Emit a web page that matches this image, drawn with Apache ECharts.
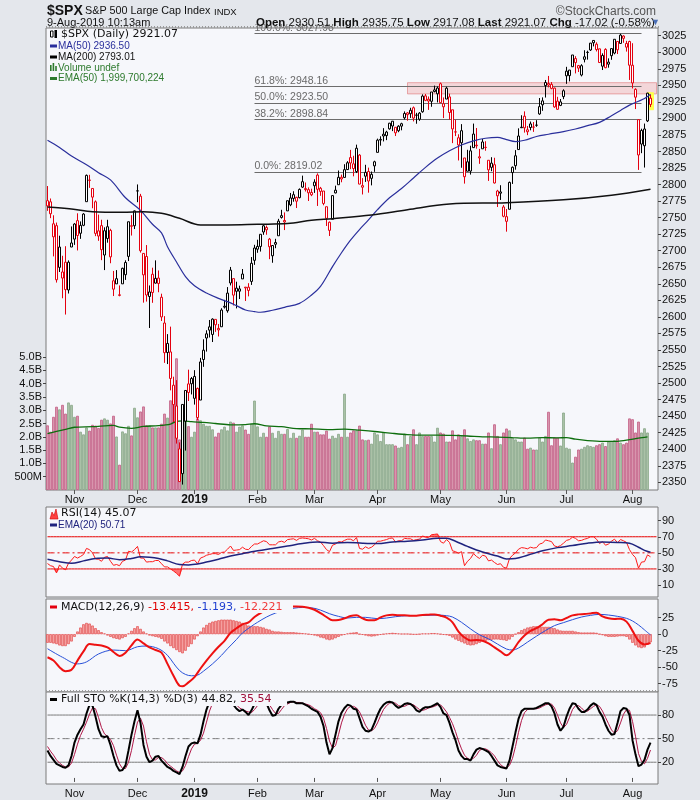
<!DOCTYPE html>
<html><head><meta charset="utf-8">
<script src="https://cdn.jsdelivr.net/npm/echarts/dist/echarts.min.js"></script>
<style>html,body{margin:0;padding:0;background:#e4e7ec}#c{width:700px;height:800px}</style>
</head><body><div id="c"></div><script>
const dates = [
'2018-10-19','2018-10-22','2018-10-23','2018-10-24','2018-10-25','2018-10-26','2018-10-29','2018-10-30','2018-10-31',
'2018-11-01','2018-11-02','2018-11-05','2018-11-06','2018-11-07','2018-11-08','2018-11-09','2018-11-12','2018-11-13','2018-11-14','2018-11-15','2018-11-16','2018-11-19','2018-11-20','2018-11-21','2018-11-23','2018-11-26','2018-11-27','2018-11-28','2018-11-29','2018-11-30',
'2018-12-03','2018-12-04','2018-12-06','2018-12-07','2018-12-10','2018-12-11','2018-12-12','2018-12-13','2018-12-14','2018-12-17','2018-12-18','2018-12-19','2018-12-20','2018-12-21','2018-12-24','2018-12-26','2018-12-27','2018-12-28','2018-12-31',
'2019-01-02','2019-01-03','2019-01-04','2019-01-07','2019-01-08','2019-01-09','2019-01-10','2019-01-11','2019-01-14','2019-01-15','2019-01-16','2019-01-17','2019-01-18','2019-01-22','2019-01-23','2019-01-24','2019-01-25','2019-01-28','2019-01-29','2019-01-30','2019-01-31',
'2019-02-01','2019-02-04','2019-02-05','2019-02-06','2019-02-07','2019-02-08','2019-02-11','2019-02-12','2019-02-13','2019-02-14','2019-02-15','2019-02-19','2019-02-20','2019-02-21','2019-02-22','2019-02-25','2019-02-26','2019-02-27','2019-02-28',
'2019-03-01','2019-03-04','2019-03-05','2019-03-06','2019-03-07','2019-03-08','2019-03-11','2019-03-12','2019-03-13','2019-03-14','2019-03-15','2019-03-18','2019-03-19','2019-03-20','2019-03-21','2019-03-22','2019-03-25','2019-03-26','2019-03-27','2019-03-28','2019-03-29',
'2019-04-01','2019-04-02','2019-04-03','2019-04-04','2019-04-05','2019-04-08','2019-04-09','2019-04-10','2019-04-11','2019-04-12','2019-04-15','2019-04-16','2019-04-17','2019-04-18','2019-04-22','2019-04-23','2019-04-24','2019-04-25','2019-04-26','2019-04-29','2019-04-30',
'2019-05-01','2019-05-02','2019-05-03','2019-05-06','2019-05-07','2019-05-08','2019-05-09','2019-05-10','2019-05-13','2019-05-14','2019-05-15','2019-05-16','2019-05-17','2019-05-20','2019-05-21','2019-05-22','2019-05-23','2019-05-24','2019-05-28','2019-05-29','2019-05-30','2019-05-31',
'2019-06-03','2019-06-04','2019-06-05','2019-06-06','2019-06-07','2019-06-10','2019-06-11','2019-06-12','2019-06-13','2019-06-14','2019-06-17','2019-06-18','2019-06-19','2019-06-20','2019-06-21','2019-06-24','2019-06-25','2019-06-26','2019-06-27','2019-06-28',
'2019-07-01','2019-07-02','2019-07-03','2019-07-05','2019-07-08','2019-07-09','2019-07-10','2019-07-11','2019-07-12','2019-07-15','2019-07-16','2019-07-17','2019-07-18','2019-07-19','2019-07-22','2019-07-23','2019-07-24','2019-07-25','2019-07-26','2019-07-29','2019-07-30','2019-07-31',
'2019-08-01','2019-08-02','2019-08-05','2019-08-06','2019-08-07','2019-08-08','2019-08-09'];

const opens = [
2775.66,2773.94,2721.03,2737.87,2674.88,2667.86,2682.65,2640.68,2705.60,
2717.58,2745.45,2726.37,2738.40,2774.13,2806.38,2794.10,2773.93,2730.05,2737.90,2693.52,2718.54,2730.74,2654.60,2657.74,2633.36,2649.97,2663.75,2691.45,2736.97,2737.76,
2790.50,2782.43,2663.51,2691.26,2630.86,2664.44,2658.23,2658.70,2629.68,2590.75,2559.90,2547.05,2496.77,2465.38,2400.56,2363.12,2442.50,2498.77,2498.94,
2476.96,2491.92,2474.33,2535.61,2568.11,2580.00,2573.51,2588.11,2580.31,2585.10,2614.75,2609.28,2651.27,2657.88,2643.48,2638.84,2657.44,2644.97,2644.89,2653.62,2685.49,
2702.32,2706.49,2728.34,2735.05,2717.53,2692.36,2712.40,2722.61,2750.30,2743.50,2760.24,2769.28,2779.05,2780.67,2780.24,2804.35,2792.36,2787.50,2788.11,
2798.22,2814.37,2794.41,2790.27,2766.53,2730.79,2747.61,2787.34,2799.78,2811.02,2810.79,2822.61,2840.76,2831.34,2819.72,2844.52,2796.01,2812.66,2819.72,2809.40,2828.27,
2848.63,2868.24,2876.09,2873.99,2884.16,2888.46,2886.58,2881.37,2891.92,2900.86,2908.32,2912.26,2916.04,2904.81,2898.78,2909.99,2934.00,2928.99,2925.81,2940.58,2937.14,
2952.33,2922.16,2929.21,2908.89,2913.03,2879.61,2859.84,2863.10,2840.19,2820.12,2820.38,2855.80,2858.60,2841.94,2854.02,2856.06,2836.70,2832.41,2830.03,2790.25,2786.94,2766.15,
2751.53,2762.64,2818.09,2828.51,2852.87,2885.83,2903.27,2882.73,2886.24,2886.82,2889.75,2906.71,2920.55,2949.60,2952.71,2951.42,2945.78,2926.07,2919.66,2932.94,
2971.41,2964.66,2978.08,2984.25,2979.77,2965.52,2989.30,2999.62,3003.36,3017.80,3012.13,3005.10,2978.87,3004.26,2981.93,2994.74,2998.77,3016.26,3013.25,3024.47,3007.66,3016.22,
2980.32,2943.90,2898.07,2861.18,2858.65,2896.21,2930.51];

const highs = [
2797.77,2778.94,2753.59,2742.59,2722.70,2692.38,2706.85,2685.43,2736.69,
2741.67,2756.55,2744.27,2756.82,2815.15,2814.75,2794.10,2775.99,2754.60,2746.80,2735.38,2746.75,2733.16,2669.44,2670.73,2647.55,2674.35,2685.50,2744.00,2753.75,2760.88,
2800.18,2785.93,2696.15,2708.54,2647.51,2674.35,2685.44,2670.19,2635.07,2601.13,2573.99,2585.29,2509.63,2504.41,2410.34,2467.76,2489.10,2520.27,2509.24,
2519.49,2493.14,2538.07,2566.16,2579.82,2595.32,2597.82,2596.27,2589.32,2613.08,2625.76,2645.06,2675.47,2657.88,2653.19,2647.20,2672.38,2644.97,2650.93,2690.44,2708.95,
2716.66,2724.99,2738.98,2738.08,2719.32,2708.07,2718.05,2748.19,2761.85,2757.90,2775.66,2787.33,2789.88,2781.58,2794.20,2813.49,2803.12,2795.76,2793.73,
2808.02,2816.88,2796.44,2790.27,2766.53,2744.13,2784.00,2798.32,2821.24,2815.00,2830.73,2835.41,2852.42,2843.54,2860.31,2846.16,2809.79,2829.87,2825.56,2819.71,2836.03,
2869.40,2872.90,2885.25,2881.28,2893.24,2895.95,2886.88,2889.71,2893.42,2910.54,2909.60,2916.06,2918.00,2908.40,2909.51,2936.31,2936.83,2933.10,2939.88,2949.52,2948.22,
2954.13,2931.68,2947.85,2937.32,2913.03,2897.96,2875.97,2891.31,2840.19,2852.54,2858.68,2892.15,2885.48,2853.86,2868.88,2865.47,2836.70,2841.36,2840.51,2792.03,2799.00,2768.98,
2763.07,2804.49,2827.28,2852.10,2884.97,2904.77,2910.61,2888.57,2895.24,2894.45,2897.27,2930.79,2931.74,2958.06,2964.15,2954.92,2946.52,2932.59,2929.30,2943.98,
2977.93,2973.21,2995.84,2994.03,2980.76,2981.90,3002.98,3002.33,3013.92,3017.80,3015.02,3005.26,2998.28,3006.02,2990.71,3005.90,3019.59,3016.31,3027.98,3025.61,3017.19,3017.40,
3013.59,2945.50,2898.07,2884.40,2892.17,2938.72,2935.75];

const lows = [
2760.27,2749.22,2691.43,2651.89,2667.84,2628.16,2603.54,2635.34,2705.60,
2708.85,2700.44,2717.94,2737.08,2774.13,2794.99,2764.24,2722.00,2714.98,2685.75,2670.75,2712.16,2681.09,2631.52,2649.82,2631.09,2649.97,2655.89,2684.38,2722.94,2732.76,
2773.38,2697.18,2621.53,2623.14,2583.23,2621.30,2650.26,2637.27,2593.84,2530.54,2528.71,2488.96,2441.18,2408.55,2351.10,2346.58,2397.94,2472.89,2482.82,
2467.47,2443.96,2474.33,2524.56,2547.56,2568.89,2562.02,2577.40,2570.41,2585.10,2612.68,2606.36,2647.58,2617.27,2612.86,2627.01,2657.33,2624.06,2631.05,2648.34,2678.65,
2696.88,2698.75,2724.03,2724.15,2687.26,2681.83,2703.79,2722.61,2748.63,2731.23,2760.24,2767.29,2774.06,2764.55,2779.11,2794.99,2789.47,2775.13,2782.51,
2787.38,2767.66,2782.97,2768.69,2737.41,2722.27,2747.61,2786.73,2799.78,2803.46,2810.79,2821.99,2823.27,2812.43,2817.38,2800.47,2785.02,2803.99,2787.72,2798.77,2819.23,
2848.63,2858.75,2865.17,2867.14,2882.99,2880.78,2873.33,2879.13,2881.99,2898.37,2896.48,2900.71,2895.45,2891.90,2896.35,2908.53,2926.05,2912.84,2917.56,2939.35,2924.11,
2923.36,2900.50,2929.21,2898.21,2862.60,2873.28,2836.40,2825.39,2801.43,2820.12,2815.08,2855.80,2854.23,2831.29,2854.02,2851.11,2805.49,2820.19,2801.58,2766.06,2776.74,2750.52,
2728.81,2762.64,2800.92,2822.45,2852.87,2885.51,2878.53,2874.68,2881.99,2879.62,2887.30,2905.44,2911.43,2931.50,2946.87,2944.05,2916.01,2912.99,2918.57,2929.05,
2952.22,2955.92,2977.96,2967.97,2970.09,2963.44,2984.62,2988.80,3001.87,3008.77,3001.15,2984.25,2973.09,2975.86,2976.65,2988.56,2996.82,2997.24,3012.59,3014.30,3000.94,2958.08,
2945.23,2914.11,2822.12,2847.42,2825.71,2894.47,2917.08];

const closes = [
2767.78,2755.88,2740.69,2656.10,2705.57,2658.69,2641.25,2682.63,2711.74,
2740.37,2723.06,2738.31,2755.45,2813.89,2806.83,2781.01,2726.22,2722.18,2701.58,2730.20,2736.27,2690.73,2641.89,2649.93,2632.56,2673.45,2682.17,2743.79,2737.80,2760.17,
2790.37,2700.06,2695.95,2633.08,2637.72,2636.78,2651.07,2650.54,2599.95,2545.94,2546.16,2506.96,2467.42,2416.62,2351.10,2467.70,2488.83,2485.74,2506.85,
2510.03,2447.89,2531.94,2549.69,2574.41,2584.96,2596.64,2596.26,2582.61,2610.30,2616.10,2635.96,2670.71,2632.90,2638.70,2642.33,2664.76,2643.85,2640.00,2681.05,2704.10,
2706.53,2724.87,2737.70,2731.61,2706.05,2707.88,2709.80,2744.73,2753.03,2745.73,2775.60,2779.76,2784.70,2774.88,2792.67,2796.11,2793.90,2792.38,2784.49,
2803.69,2792.81,2789.65,2771.45,2748.93,2743.07,2783.30,2791.52,2810.92,2808.48,2822.48,2832.94,2832.57,2824.23,2854.88,2800.71,2798.36,2818.46,2805.37,2815.44,2834.40,
2867.19,2867.24,2873.40,2879.39,2892.74,2895.77,2878.20,2888.21,2888.32,2907.41,2905.58,2907.06,2900.45,2905.03,2907.97,2933.68,2927.25,2926.17,2939.88,2943.03,2945.83,
2923.73,2917.52,2945.64,2932.47,2884.05,2879.42,2870.72,2881.40,2811.87,2834.41,2850.96,2876.32,2859.53,2840.23,2864.36,2856.27,2822.24,2826.06,2802.39,2783.02,2788.86,2752.06,
2744.45,2803.27,2826.15,2843.49,2873.34,2886.73,2885.72,2879.84,2891.64,2886.98,2889.67,2917.75,2926.46,2954.18,2950.46,2945.35,2917.38,2913.78,2924.92,2941.76,
2964.33,2973.01,2995.82,2990.41,2975.95,2979.63,2993.07,2999.91,3013.77,3014.30,3004.04,2984.42,2995.11,2976.61,2985.03,3005.47,3019.56,3003.67,3025.86,3020.97,3013.18,2980.38,
2953.56,2932.05,2844.74,2881.77,2883.98,2938.09,2921.07];
const prevClose = 2768.78;

// volume in billions (last day undefined)
const volumes = [
2.43,2.19,2.75,3.13,3.03,3.2,2.87,3.29,3.2,
2.75,2.79,2.19,2.09,2.35,2.23,2.45,2.42,2.33,2.64,2.69,2.64,2.5,2.79,2.01,0.95,2.2,2.13,2.41,2.05,3.09,
2.73,2.95,3.14,2.43,2.43,2.35,2.35,2.35,2.49,2.87,2.72,3.37,3.55,4.95,1.9,2.6,2.62,2.4,2.0,
2.19,2.69,2.62,2.49,2.41,2.41,2.28,2.01,2.15,2.28,2.38,2.24,2.57,2.53,2.19,2.38,2.43,2.27,2.11,2.49,3.36,
2.39,2.0,2.15,2.0,2.39,2.15,1.96,2.22,2.11,2.11,2.29,1.96,2.15,1.96,2.04,2.27,2.0,2.0,2.49,
2.19,2.19,2.09,2.09,2.23,1.93,2.04,1.96,2.11,2.0,3.62,2.0,2.16,2.24,2.24,2.42,1.9,1.87,1.89,1.74,2.16,
2.09,1.84,2.16,1.72,1.72,1.72,1.67,1.59,1.62,2.12,1.72,2.03,2.28,1.72,2.16,2.03,2.03,2.03,2.03,1.82,2.34,
2.16,2.12,1.82,1.82,2.24,1.9,2.09,2.03,2.28,1.94,1.84,1.9,1.87,1.87,1.74,1.74,2.16,1.57,2.47,2.03,1.72,2.16,
2.31,2.24,1.97,1.9,1.82,1.82,1.97,1.55,1.59,1.52,1.52,1.97,1.82,2.03,2.94,1.68,1.97,1.97,1.67,2.91,
1.59,1.55,1.03,1.25,1.52,1.55,1.62,1.68,1.65,1.62,1.68,1.72,1.78,1.65,1.82,1.84,1.87,1.94,1.78,1.72,1.78,2.69,
2.66,2.16,2.57,2.16,2.32,2.16,null];

// [dayIndex, value] points
const volEma50 = [[0,2.12],[3,2.2],[6,2.28],[9,2.36],[15,2.38],[22,2.43],[24,2.36],[28,2.32],[32,2.39],[37,2.42],[41,2.48],[43,2.58],[45,2.6],[48,2.57],[52,2.54],[56,2.5],[61,2.45],[66,2.46],[69,2.49],[73,2.41],[78,2.38],[83,2.31],[88,2.3],[94,2.27],[99,2.29],[104,2.25],[110,2.19],[115,2.13],[120,2.08],[125,2.06],[130,2.06],[135,2.05],[140,2.03],[145,2.0],[150,1.99],[155,1.97],[160,1.95],[165,1.97],[170,1.96],[173,1.97],[176,1.91],[180,1.86],[185,1.83],[190,1.83],[194,1.89],[197,1.95],[200,2.0]];
const ma50 = [[0,2867],[4,2856],[8,2843],[13,2830],[17,2818],[21,2807],[26,2780],[31,2761],[35,2740],[38,2727],[40,2706],[43,2683],[46,2661],[49,2647],[53,2636],[57,2628],[60,2623],[63,2617],[66,2610.5],[69,2608],[71,2607],[75,2610],[79,2614.5],[84,2620.5],[88,2633],[91,2646],[95,2676],[98,2697],[101,2716],[104,2732],[107,2746.5],[110,2762],[114,2780],[118,2794],[122,2810],[126,2826],[130,2840],[134,2851],[138,2859.8],[142,2866],[146,2870],[150,2871.4],[153,2868],[156,2865],[159,2867],[163,2872.6],[167,2876],[172,2880],[176,2884],[180,2889],[184,2894],[188,2904],[191,2912],[194,2920],[197,2926],[199,2930],[201,2936.5]];
const ma200 = [[0,2766],[8,2763],[15,2759],[25,2758],[32,2759],[38,2756.5],[44,2749],[51,2739],[60,2739],[70,2740],[80,2741],[88,2746],[95,2748.5],[108,2754],[120,2762],[134,2770.5],[153,2772.6],[172,2777],[188,2784],[201,2793]];

const rsi = [
36.7,34,33,25,35,31,29,37,41,
45.5,43.5,45.5,48,55.5,54,50,42.5,42,39.5,44.5,45.5,39.5,34.5,35.5,34,39.5,41,52,51,54,
58,43.5,43.5,38.5,39,39,40.5,40.5,36.5,32.5,32.5,30,27.5,24.5,21,36,38.5,38.5,40.5,
41,36.5,43.5,45,47,48,49,49,48,50.5,51,54.5,58.5,53,53.5,54,57,54.5,54,58,61,
61,63,65,64,60,60,60,63.5,64.5,63,66.5,67,67.5,65.5,68,68.5,68,67.5,66,
68,65,63.5,59,54,51.5,59.5,61,64,63.5,65.5,67,67,65,69,55.5,54.5,57.5,55.5,57,60,
64.5,64.5,65.5,66.5,68,68.5,63.5,65,65,68,67.5,67.5,65.5,66.5,67,71,69.5,69,72.5,73,73.5,
64,62,66.5,63,52.5,51.5,49.5,51.5,34,39.5,43,49,45.5,43,47,46,40,41,38,35.5,36.5,32,
31,43,47,50,54.5,56.5,56,55,57,56,56.5,61,62,66,65,64,58.5,57.5,59,62,
65.5,66.5,69.5,68,65,65.5,67,68,70,70,67,61.5,64,59.5,61,64.5,67,62.5,66.5,65,63,54,
48,44,31,38.5,39,47.5,45.07];
const rsiEma20 = [[0,42],[4,39],[8,37],[12,40],[16,43],[20,43.5],[24,41.5],[28,43],[31,45],[34,44.5],[37,43],[40,40],[44,35.5],[47,35],[50,36],[53,38.5],[57,42],[61,46],[65,49],[70,52.5],[75,55.5],[80,58.5],[85,61.5],[90,63.5],[95,62],[100,63],[105,62],[110,61.5],[115,63.5],[120,64.5],[125,66],[130,68],[133,68],[136,64.5],[140,58],[145,51],[150,46],[153,42.5],[156,43],[160,47],[165,52.5],[170,56.5],[175,59],[180,62],[185,63.5],[190,63],[194,62],[197,57],[199,53],[201,50.71]];

const macdLine = [[0,-35],[2,-40],[4,-50],[6,-56],[8,-54],[10,-40],[12,-26],[14,-15],[16,-16],[18,-17],[20,-20],[22,-27],[24,-33],[26,-28],[28,-17],[30,-8],[32,-14],[34,-20],[36,-24],[38,-28],[40,-45],[42,-63],[44,-78],[45,-78.8],[47,-73],[49,-65],[51,-52],[53,-40],[55,-29],[57,-19],[59,-10],[61,2],[63,9],[65,15],[67,18],[69,26],[71,32],[73,36],[75,38],[77,40],[79,41],[81,42],[83,42],[85,41.5],[87,40],[89,37],[91,32],[93,26],[95,21],[97,21.5],[99,24],[101,27.5],[103,28.5],[105,24],[107,21],[109,21],[111,25.5],[113,28.5],[115,29.5],[117,28.5],[119,28.5],[121,28],[123,28],[125,29],[127,29.5],[129,30],[131,28],[133,25],[135,18],[137,4],[139,-5],[141,-9.5],[143,-9],[145,-10],[147,-14],[149,-20],[151,-26],[153,-32],[155,-25],[157,-12],[159,-2],[161,5],[163,9],[165,15],[167,22],[169,22.5],[171,21],[173,24.5],[175,28.5],[177,30],[179,30.5],[181,31.5],[183,32.5],[185,27],[187,24],[189,23],[191,23.5],[193,19],[195,5],[197,-10],[199,-15.5],[201,-13.415]];
const macdSignal = [[0,-22],[5,-35],[10,-45],[13,-42],[17,-30],[22,-24],[26,-25],[30,-19],[33,-18],[37,-22],[40,-32],[42,-44],[44,-55],[46,-61],[48,-63],[50,-62],[52,-56],[55,-45],[58,-32],[60,-22],[63,-8],[65,2],[68,12],[70,18],[73,26],[76,32],[80,37.5],[85,40.5],[88,40],[91,36.5],[94,31],[97,27],[100,24.5],[103,25.5],[106,25.5],[110,23.5],[113,24.5],[116,26.5],[120,28],[125,28.3],[130,29],[133,28],[135,26],[138,18],[141,8],[144,-1],[147,-7],[150,-15],[153,-22.5],[155,-24],[157,-21],[160,-12],[163,-3],[166,5.5],[169,13],[172,17.5],[175,22],[178,26],[181,28.5],[184,30],[187,29],[190,27],[193,24],[195,20],[197,14],[199,6.5],[201,-1.193]];
const macdHist = [
-13,-13,-14,-15,-17,-18,-18,-15,-11,
-4,4,10,15,17,16,13,9,6,3,1,-2,-4,-6,-7,-8,-6,-4,1,5,9,
12,8,4,1,-2,-3,-4,-5,-7,-11,-14,-18,-21,-24,-27,-29,-25,-19,-15,
-8,-3,4,10,14,17,19,20,21,22,22,22,22,21,20,19,17,15,13,12,12,
12,11,10,8,7,5,4,4,3.5,3,3,3,3,2.5,2,1.5,1,0,-1,
-2,-3,-5,-6,-8,-9,-8,-6,-4,-2,-1,1,2,2.5,3,0,-1,-2,-3,-3.5,-3,
-2,-1,0,1,1.5,2,1.5,1,0.5,0.5,0.5,0,-0.5,-0.5,0,1,1,1,1.5,1.5,1,
0,-1,-1.5,-2.5,-5,-8,-10,-12,-14,-16,-17,-16.5,-15,-13,-11,-10,-9,-8.5,-8,-8,-8.5,-9,
-10,-8,-4,0,3,6,8,10,11,12,12,12,11,11,11,10,9,7,5.5,5,
5,5,5,4,3,2.5,2.5,2.5,2.5,2.5,2,0,-1.5,-3,-4,-4,-4,-3.5,-3,-3,-4,-8,
-13,-17,-20,-21,-20,-16,-12.221];

const stoK = [
35,28,23,18,16,14,13,16,28,
45,55,62,68,82,93,92,78,62,53,52,53,42,28,16,9,10,16,35,55,72,
86,70,42,27,20,22,27,28,22,18,14,12,9,7,5,14,28,40,44,
45,44,55,72,87,97,100,100,98,97,97,98,99,93,88,85,87,84,80,86,94,
97,98,98,95,86,79,80,88,93,94,96,97,97,95,95,95,93,91,88,
86,84,78,66,45,30,38,55,72,83,89,93,92,88,87,76,65,60,59,61,70,
80,88,93,96,97,96,92,89,91,94,95,94,91,86,84,88,90,90,91,93,95,
90,82,80,70,58,48,35,28,24,24,22,30,36,38,37,35,33,28,22,16,14,13,
12,22,40,58,75,85,88,88,88,88,89,91,93,95,95,91,82,68,60,65,
78,88,95,94,88,84,84,87,92,95,93,84,78,68,60,55,56,70,85,89,88,80,
48,30,15,17,23,36,44.82];
const stoD = [
40,34,29,23,19,16,14,14,19,
30,43,54,62,71,81,89,88,77,64,56,53,49,41,29,18,12,12,20,35,54,
71,76,66,46,30,23,23,26,26,23,18,15,12,9,7,9,16,27,37,
43,44,48,57,71,85,95,99,99,98,97,97,98,97,93,89,87,85,84,83,87,
92,96,98,97,93,87,82,82,87,92,94,96,97,96,96,95,94,93,91,
88,86,83,76,63,47,38,41,55,70,81,88,91,91,89,84,76,67,61,60,63,
70,79,87,92,95,96,95,92,91,91,93,94,93,90,87,86,87,89,90,91,93,
93,89,84,77,69,59,47,37,29,25,23,25,29,35,37,37,35,32,28,22,17,14,
13,16,25,40,58,73,83,87,88,88,88,89,91,93,94,94,89,80,70,64,
68,77,87,92,92,89,85,85,88,91,93,91,85,77,69,61,57,60,70,81,87,86,
72,53,31,21,18,25,35.54];

const fibLevels = [{pct:'100.0%',v:3027.98},{pct:'61.8%',v:2948.16},{pct:'50.0%',v:2923.50},{pct:'38.2%',v:2898.84},{pct:'0.0%',v:2819.02}];
const fibStart = 69, fibEnd = 198;
const resistanceZone = {from:120, low:2937, high:2954};
const rsiLevels = [70, 50, 30];
const stoLevels = [80, 50, 20];
const priceTicks = [2350,2375,2400,2425,2450,2475,2500,2525,2550,2575,2600,2625,2650,2675,2700,2725,2750,2775,2800,2825,2850,2875,2900,2925,2950,2975,3000,3025];
const volTicks = [0.5,1,1.5,2,2.5,3,3.5,4,4.5,5];
const rsiTicks = [10,30,50,70,90];
const macdTicks = [-75,-50,-25,0,25];
const stoTicks = [20,50,80];
const monthNames = ['Jan','Feb','Mar','Apr','May','Jun','Jul','Aug','Sep','Oct','Nov','Dec'];

// ---------- build ----------
const N = dates.length;
const cats = dates.concat(['', ' ']);
const isMonthStart = i => i > 0 && i < N && dates[i].slice(0,7) !== dates[i-1].slice(0,7);
const RED = '#e4000f', BLK = '#000000', PANEL = '#f6f7fb', NAVY = '#2a2f9c', GREEN = '#2d7a2d', OUTER = '#e4e7ec';
const dirUp = i => closes[i] >= (i ? closes[i-1] : prevClose);

const candleData = dates.map((d,i) => {
  const c = dirUp(i) ? BLK : RED;
  return {value:[opens[i], closes[i], lows[i], highs[i]], itemStyle:{color:'#ffffff', color0:c, borderColor:c, borderColor0:c}};
});
const volData = volumes.map((v,i) => {
  const up = dirUp(i);
  return {value: v, itemStyle:{color: up ? '#afc5ac' : '#dc9cb2', borderColor: up ? '#86a485' : '#c25a82', borderWidth:0.8}};
});
const hl = dates.map(() => '-');
hl[N-1] = [lows[N-1]-4, highs[N-1]+3, lows[N-1]-4, highs[N-1]+3];
const pts = arr => arr.map(p => [dates[p[0]], p[1]]);

const GL = 46, GW = 612;
const grids = [
  {left:GL, top:28, width:GW, height:462},
  {left:GL, top:507, width:GW, height:90},
  {left:GL, top:599, width:GW, height:93},
  {left:GL, top:692, width:GW, height:93}
].map(g => Object.assign(g, {show:true, backgroundColor:PANEL, borderColor:'#7a7a7a', borderWidth:1}));

const lblFmt = v => { const m = +v.slice(5,7); return m === 1 ? '{b|' + v.slice(0,4) + '}' : monthNames[m-1]; };
function mkX(gi, showLabel) {
  return {type:'category', gridIndex:gi, data:cats, boundaryGap:true,
    axisLine:{show:false}, splitLine:{show:false},
    axisTick:{show:showLabel, alignWithLabel:true, interval:(i)=>isMonthStart(i), length:4, lineStyle:{color:'#555'}},
    axisLabel:{show:showLabel, interval:(i)=>isMonthStart(i), formatter:lblFmt, fontSize:11, color:'#111', margin:4,
      fontFamily:'Liberation Sans', rich:{b:{fontWeight:'bold', fontSize:12, fontFamily:'Liberation Sans', color:'#111'}}}};
}
function mkDots(gi) {
  return {type:'category', gridIndex:gi, data:cats, boundaryGap:true, axisLine:{show:false}, axisLabel:{show:false}, splitLine:{show:false},
    axisTick:{show:true, interval:0, length:2, lineStyle:{color:'#9a9a9a', width:1}}};
}
function mkY(gi, pos, min, max, ticks, fmt) {
  return {type:'value', gridIndex:gi, position:pos, min, max, splitLine:{show:false}, axisLine:{show:false},
    axisTick:{show:true, length:3, customValues:ticks, lineStyle:{color:'#444'}},
    axisLabel:{customValues:ticks, fontSize:11, color:'#111', margin:4, fontFamily:'Liberation Sans', formatter: fmt || (v => String(v))}};
}
// horizontal reference level drawn as its own line across every category
const levelLine = (xi, yi, level, color, dashed) => ({type:'line', xAxisIndex:xi, yAxisIndex:yi, data:cats.map(() => level),
  symbol:'none', silent:true, z:3, lineStyle:{color, width:1, type: dashed ? [7,3,2,3] : 'solid'}});

const series = [
  {type:'bar', xAxisIndex:0, yAxisIndex:1, data:volData, barCategoryGap:'10%', z:1, silent:true},
  {type:'line', xAxisIndex:0, yAxisIndex:1, data:pts(volEma50), smooth:0.3, symbol:'none', lineStyle:{color:'#0e6e0e', width:1.3}, z:2},
  {type:'candlestick', xAxisIndex:0, yAxisIndex:0, data:hl, barWidth:7, itemStyle:{color:'#ffff4d', color0:'#ffff4d', borderColor:'#ffff4d', borderColor0:'#ffff4d'}, z:3, silent:true},
  {type:'candlestick', xAxisIndex:0, yAxisIndex:0, data:candleData, barWidth:2.6, itemStyle:{borderWidth:1}, z:5,
    markLine:{silent:true, symbol:'none', animation:false, lineStyle:{color:'#6c6c6c', width:1, type:'solid'},
      label:{position:'insideStartTop', color:'#6a6a6a', fontSize:10.5, fontFamily:'Liberation Sans', distance:[0,0]},
      data: fibLevels.map(f => [{coord:[dates[fibStart], f.v], label:{formatter: f.pct + ': ' + f.v.toFixed(2)}}, {coord:[dates[fibEnd], f.v]}])},
    markArea:{silent:true, animation:false, itemStyle:{color:'rgba(236,140,140,0.30)', borderColor:'rgba(220,110,110,0.55)', borderWidth:1},
      data:[[{xAxis:dates[resistanceZone.from], yAxis:resistanceZone.low}, {xAxis:cats[cats.length-1], yAxis:resistanceZone.high}]]}},
  {type:'line', xAxisIndex:0, yAxisIndex:0, data:pts(ma50), smooth:0.35, symbol:'none', lineStyle:{color:NAVY, width:1.2}, z:6},
  {type:'line', xAxisIndex:0, yAxisIndex:0, data:pts(ma200), smooth:0.35, symbol:'none', lineStyle:{color:'#111', width:1.5}, z:6},

  // RSI
  {type:'line', xAxisIndex:1, yAxisIndex:2, data:rsi.map(()=>30), stack:'lo', stackStrategy:'all', symbol:'none', lineStyle:{width:0, opacity:0}, silent:true, z:2},
  {type:'line', xAxisIndex:1, yAxisIndex:2, data:rsi.map(v=>Math.min(v-30,0)), stack:'lo', stackStrategy:'all', symbol:'none', lineStyle:{width:0, opacity:0}, areaStyle:{color:'#ff5a5a', opacity:0.85}, silent:true, z:2},
  {type:'line', xAxisIndex:1, yAxisIndex:2, data:rsi.map(()=>70), stack:'hi', stackStrategy:'all', symbol:'none', lineStyle:{width:0, opacity:0}, silent:true, z:2},
  {type:'line', xAxisIndex:1, yAxisIndex:2, data:rsi.map(v=>Math.max(v-70,0)), stack:'hi', stackStrategy:'all', symbol:'none', lineStyle:{width:0, opacity:0}, areaStyle:{color:'#ff5a5a', opacity:0.85}, silent:true, z:2},
  ...rsiLevels.map(l => levelLine(1, 2, l, '#e60000', l === 50)),
  {type:'line', xAxisIndex:1, yAxisIndex:2, data:rsi, symbol:'none', lineStyle:{color:'#ff1a1a', width:1}, z:4},
  {type:'line', xAxisIndex:1, yAxisIndex:2, data:pts(rsiEma20), smooth:0.35, symbol:'none', lineStyle:{color:'#1f237e', width:1.5}, z:5},

  // MACD
  {type:'bar', xAxisIndex:2, yAxisIndex:3, data:macdHist, barCategoryGap:'15%', itemStyle:{color:'#f4a3a3', borderColor:'#e03a3a', borderWidth:0.6}, z:2, silent:true},
  {type:'line', xAxisIndex:2, yAxisIndex:3, data:pts(macdSignal), smooth:0.35, symbol:'none', lineStyle:{color:'#2750d8', width:1}, z:4},
  {type:'line', xAxisIndex:2, yAxisIndex:3, data:pts(macdLine), smooth:0.35, symbol:'none', lineStyle:{color:'#ee1111', width:2}, z:5},

  // STO
  ...stoLevels.map(l => levelLine(3, 4, l, '#7a7a7a', l === 50)),
  {type:'line', xAxisIndex:3, yAxisIndex:4, data:stoD, symbol:'none', lineStyle:{color:'#b01848', width:1}, z:4},
  {type:'line', xAxisIndex:3, yAxisIndex:4, data:stoK, symbol:'none', lineStyle:{color:'#000', width:2}, z:5}
];

// ---------- text ----------
const T = (x, y, text, o) => ({type:'text', z:100, x, y, silent:true,
  style:Object.assign({text, fill:'#111', fontSize:11, fontFamily:'Liberation Sans', verticalAlign:'middle', textVerticalAlign:'middle'}, o || {})});
const R = (x, y, w, h, fill, stroke) => ({type:'rect', z:99, silent:true, shape:{x, y, width:w, height:h}, style:{fill, stroke: stroke || null, lineWidth: stroke ? 1 : 0}});
const rb = (c) => ({fill:c, color:c, fontSize:11, fontFamily:'DejaVu Sans'});

const graphic = [
  R(0, 0, 700, 24, OUTER),
  T(47, 11, '$SPX', {fontSize:14, fontWeight:'bold'}),
  T(85, 11.5, 'S&P 500 Large Cap Index', {fontSize:10.8}),
  T(214, 12, 'INDX', {fontSize:9.5}),
  T(656, 12, '\u00A9StockCharts.com', {fontSize:12, fill:'#555', align:'right', textAlign:'right'}),
  T(47, 23, '9-Aug-2019 10:13am', {fontSize:11}),
  T(256, 23, '{b|Open} 2930.51 {b|High} 2935.75 {b|Low} 2917.08 {b|Last} 2921.07 {b|Chg} -17.02 (-0.58%)',
    {fontSize:11.5, rich:{b:{fontWeight:'bold', fontSize:11.5, fontFamily:'Liberation Sans', fill:'#111'}}}),
  T(651, 23, '\u25BC', {fontSize:9, fill:'#4a6fb8'}),

  // price legend
  R(50.5, 31, 2.5, 6, '#ffffff', '#000'), R(54.5, 30, 2.5, 8, '#000'),
  T(61, 34.5, '$SPX (Daily) 2921.07', {fontFamily:'DejaVu Sans', fontSize:11}),
  R(50, 44.5, 7, 3, NAVY), T(58, 46, 'MA(50) 2936.50', {fill:NAVY, fontSize:10}),
  R(50, 55.5, 7, 3, '#000'), T(58, 57, 'MA(200) 2793.01', {fontSize:10}),
  R(50, 65, 1.6, 6, GREEN), R(52.6, 63, 1.6, 8, GREEN), R(55.2, 66, 1.6, 5, GREEN), T(58, 68, 'Volume undef', {fill:GREEN, fontSize:10}),
  R(50, 77, 7, 3, GREEN), T(58, 78.5, 'EMA(50) 1,999,700,224', {fill:GREEN, fontSize:10}),

  // RSI legend
  {type:'polygon', z:99, silent:true, shape:{points:[[50,519],[52,512],[54,515.5],[56,509],[58,519]]}, style:{fill:'#ff4040', stroke:'#d00000', lineWidth:0.6}},
  T(61, 513.5, 'RSI(14) 45.07', {fontFamily:'DejaVu Sans', fontSize:11}),
  R(50, 523.5, 7, 3, '#1f237e'), T(58, 525, 'EMA(20) 50.71', {fill:'#1f237e', fontSize:10}),

  // MACD legend
  R(47, 600, 246, 13, PANEL), R(50, 605.5, 7, 3, RED),
  T(61, 607, '{k|MACD(12,26,9)}{r| -13.415,}{u| -1.193,}{p| -12.221}',
    {rich:{k:rb('#111'), r:rb('#e00000'), u:rb('#1f3fd0'), p:rb('#f03a3a')}}),

  // STO legend
  R(47, 693, 240, 13, PANEL), R(50, 698, 7, 3, '#000'),
  T(61, 699.5, '{k|Full STO %K(14,3) %D(3) 44.82,}{m| 35.54}', {rich:{k:rb('#111'), m:rb('#a0103a')}})
];

const chart = echarts.init(document.getElementById('c'), null, {renderer:'canvas'});
chart.setOption({
  animation:false,
  backgroundColor:OUTER,
  grid: grids,
  xAxis: [mkX(0,true), mkX(1,false), mkX(2,false), mkX(3,true), mkDots(0), mkDots(3)],
  yAxis: [
    mkY(0,'right',2338.4,3036.6,priceTicks),
    mkY(0,'left',0,17.37,volTicks, v => v < 1 ? Math.round(v*1000)+'M' : v.toFixed(1)+'B'),
    mkY(1,'right',-4.9,107,rsiTicks),
    mkY(2,'right',-87.6,53.3,macdTicks),
    mkY(3,'right',-7.7,109.3,stoTicks)
  ],
  series,
  graphic
});
</script></body></html>
